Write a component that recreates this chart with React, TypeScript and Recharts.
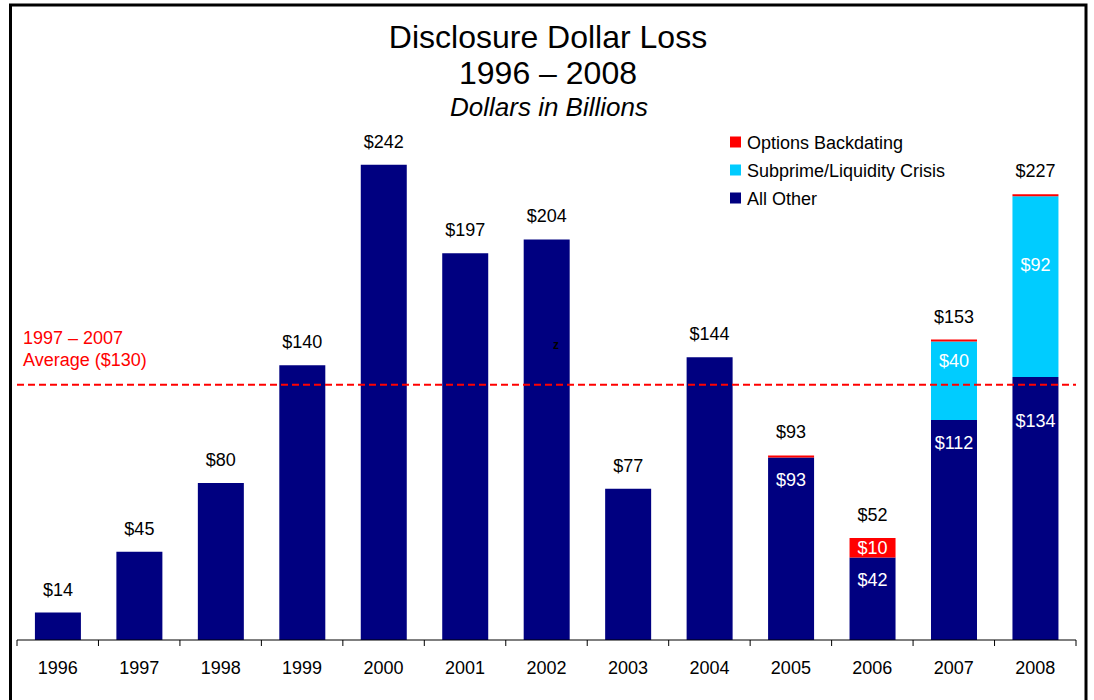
import React from "react";
import { BarChart, Bar, XAxis, YAxis, ReferenceLine, LabelList } from "recharts";

const years = ["1996", "1997", "1998", "1999", "2000", "2001", "2002", "2003", "2004", "2005", "2006", "2007", "2008"];
const allOther = [14, 45, 80, 140, 242, 197, 204, 77, 144, 93, 42, 112, 134];
const subprime = [0, 0, 0, 0, 0, 0, 0, 0, 0, 0, 0, 40, 92];
const options = [0, 0, 0, 0, 0, 0, 0, 0, 0, 1, 10, 1, 1];
const totals = [14, 45, 80, 140, 242, 197, 204, 77, 144, 93, 52, 153, 227];
const averageValue = 130;
const averageLines = ["1997 \u2013 2007", "Average ($130)"];
const titleLines = ["Disclosure Dollar Loss", "1996 \u2013 2008", "Dollars in Billions"];

const seriesInfo = [
  { key: "options", name: "Options Backdating", color: "#FF0000" },
  { key: "subprime", name: "Subprime/Liquidity Crisis", color: "#00CCFF" },
  { key: "allOther", name: "All Other", color: "#000080" },
];

const data = years.map((y, i) => ({
  year: y,
  allOther: allOther[i],
  subprime: subprime[i],
  options: options[i],
  total: totals[i],
}));

const FONT = "'Liberation Sans', Arial, Helvetica, sans-serif";

const YearTick = (props: any) => {
  const { x, y, payload, index } = props;
  const half = payload && typeof payload.offset === "number" && payload.offset > 0 ? payload.offset : 1059 / 13 / 2;
  return (
    <g>
      <line x1={x - half} x2={x - half} y1={y} y2={y + 6} stroke="#000" strokeWidth={1} />
      {index === years.length - 1 && (
        <line x1={x + half} x2={x + half} y1={y} y2={y + 6} stroke="#000" strokeWidth={1} />
      )}
      <text x={x} y={y + 34} textAnchor="middle" fontSize={18} fill="#000" fontFamily={FONT}>
        {payload.value}
      </text>
    </g>
  );
};

const T = (props: any) => (
  <text textAnchor="middle" fontSize={18} fontFamily={FONT} {...props} />
);

// All labels of a column are drawn from the "All Other" bar, which exists in every column.
const columnLabels = (p: any) => {
  const { x, y, width, height, index } = p;
  const cx = x + width / 2;
  const ppu = height / allOther[index];
  const sub = subprime[index];
  const opt = options[index];
  const subTop = y - sub * ppu;
  const optTop = subTop - opt * ppu;
  const out: any[] = [];
  out.push(
    <T key="tot" x={cx} y={optTop - 17} fill="#000">{`$${totals[index]}`}</T>
  );
  if (sub + opt > 0) {
    const dy = index === 12 ? 50.5 : 28.5;
    out.push(<T key="oth" x={cx} y={y + dy} fill="#fff">{`$${allOther[index]}`}</T>);
  }
  if (sub > 0) {
    const dy = index === 12 ? 74.5 : 25.5;
    out.push(<T key="sub" x={cx} y={subTop + dy} fill="#fff">{`$${sub}`}</T>);
  }
  if (opt >= 5) {
    out.push(<T key="opt" x={cx} y={optTop + (opt * ppu) / 2 + 6.5} fill="#fff">{`$${opt}`}</T>);
  }
  return <g>{out}</g>;
};

const avgLabel = (p: any) => {
  const vb = p.viewBox || {};
  const x = (vb.x ?? 17) + 6;
  const y = vb.y ?? 385;
  return (
    <g>
      <text x={x} y={y - 41} fontSize={18} fill="#FF0000" fontFamily={FONT}>{averageLines[0]}</text>
      <text x={x} y={y - 19} fontSize={18} fill="#FF0000" fontFamily={FONT}>{averageLines[1]}</text>
    </g>
  );
};

export default function App() {
  return (
    <div style={{ position: "absolute", left: 0, top: 0, width: 1094, height: 700, background: "#fff", fontFamily: FONT }}>
      <BarChart
        width={1094}
        height={700}
        data={data}
        margin={{ top: 51, right: 18, bottom: 0, left: 17 }}
        barCategoryGap="22%"
      >
        <XAxis
          dataKey="year"
          height={60}
          tickSize={0}
          tickMargin={0}
          tickLine={false}
          axisLine={{ stroke: "#000", strokeWidth: 1 }}
          tick={<YearTick />}
          interval={0}
        />
        <YAxis hide domain={[0, 300]} />
        <Bar dataKey="allOther" stackId="a" fill="#000080" isAnimationActive={false}>
          <LabelList dataKey="allOther" content={columnLabels} />
        </Bar>
        <Bar dataKey="subprime" stackId="a" fill="#00CCFF" isAnimationActive={false} />
        <Bar dataKey="options" stackId="a" fill="#FF0000" isAnimationActive={false} />
        <ReferenceLine
          y={averageValue}
          stroke="#FF0000"
          strokeWidth={2}
          strokeDasharray="7 4"
          label={avgLabel}
        />
      </BarChart>
      <svg width={1094} height={700} style={{ position: "absolute", left: 0, top: 0, pointerEvents: "none" }}>
        <rect x={10.5} y={5} width={1075.5} height={800} fill="none" stroke="#000" strokeWidth={3} />
        <text x={548} y={48} textAnchor="middle" fontSize={32} fill="#000" fontFamily={FONT}>{titleLines[0]}</text>
        <text x={548} y={84} textAnchor="middle" fontSize={32} fill="#000" fontFamily={FONT}>{titleLines[1]}</text>
        <text x={549} y={116} textAnchor="middle" fontSize={26} fontStyle="italic" fill="#000" fontFamily={FONT}>{titleLines[2]}</text>
        {seriesInfo.map((s, i) => (
          <g key={s.key}>
            <rect x={730} y={136.5 + i * 28} width={11} height={11} fill={s.color} />
            <text x={747} y={148.5 + i * 28} fontSize={18} fill="#000" fontFamily={FONT}>{s.name}</text>
          </g>
        ))}
        <text x={556} y={349} textAnchor="middle" fontSize={12} fontWeight="bold" fill="#000" fontFamily={FONT}>z</text>
      </svg>
    </div>
  );
}
